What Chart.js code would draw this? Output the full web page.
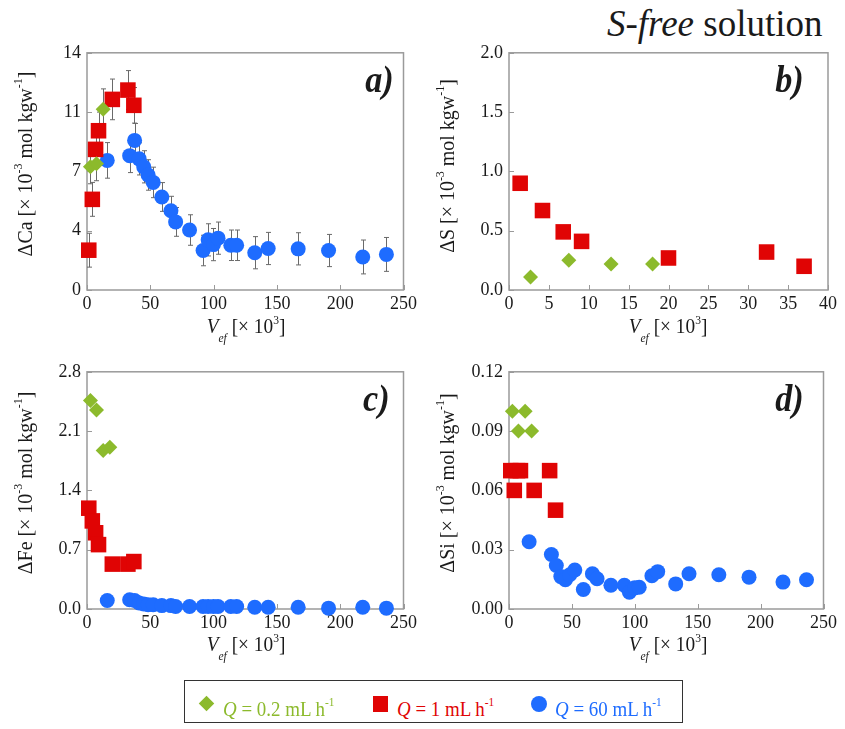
<!DOCTYPE html>
<html>
<head>
<meta charset="utf-8">
<script src="https://cdn.jsdelivr.net/npm/chart.js@4.4.0/dist/chart.umd.min.js"></script>
<style>
body { margin: 0; background: #fff; }
#fig { position: relative; width: 845px; height: 729px; font-family: 'Liberation Serif', 'Times New Roman', serif; color: #1a1a1a; overflow: hidden; }
.panel { position: absolute; }
.ytitle { position: absolute; white-space: nowrap; font-size: 21px; line-height: 1; transform: translate(-50%, -50%) rotate(-90deg) scaleX(0.95); }
.xtitle { position: absolute; white-space: nowrap; font-size: 21px; line-height: 1; transform: translateX(-50%) scaleX(0.92); }
.tag { position: absolute; font-weight: bold; font-style: italic; font-size: 38px; line-height: 1; transform: scaleX(0.9); transform-origin: right top; }
sup { font-size: 60%; vertical-align: 0.75em; line-height: 0; }
sub { font-size: 60%; vertical-align: -0.7em; line-height: 0; font-style: italic; }
#title { position: absolute; left: 607px; top: 2px; font-size: 37px; white-space: nowrap; }
#legend { position: absolute; left: 184px; top: 680px; width: 497px; height: 41px; border: 1.5px solid #333; }
.lg { position: absolute; white-space: nowrap; font-size: 22px; line-height: 1; transform: scaleX(0.86); transform-origin: left top; }
.mk { position: absolute; }
</style>
</head>
<body>
<div id="fig">
  <div id="title"><i>S-free</i> solution</div>

  <canvas id="chartA" class="panel" width="420" height="290" style="left:0px;top:36px"></canvas>
  <canvas id="chartB" class="panel" width="420" height="290" style="left:420px;top:36px"></canvas>
  <canvas id="chartC" class="panel" width="420" height="290" style="left:0px;top:355px"></canvas>
  <canvas id="chartD" class="panel" width="420" height="290" style="left:420px;top:355px"></canvas>

  <div class="ytitle" style="left:25px;top:164px">ΔCa [× 10<sup>-3</sup> mol kgw<sup>-1</sup>]</div>
  <div class="ytitle" style="left:447px;top:166px">ΔS [× 10<sup>-3</sup> mol kgw<sup>-1</sup>]</div>
  <div class="ytitle" style="left:25px;top:483px">ΔFe [× 10<sup>-3</sup> mol kgw<sup>-1</sup>]</div>
  <div class="ytitle" style="left:447px;top:483px">ΔSi [× 10<sup>-3</sup> mol kgw<sup>-1</sup>]</div>

  <div class="xtitle" style="left:246px;top:316px"><i>V</i><sub>ef</sub> [× 10<sup>3</sup>]</div>
  <div class="xtitle" style="left:668px;top:316px"><i>V</i><sub>ef</sub> [× 10<sup>3</sup>]</div>
  <div class="xtitle" style="left:246px;top:634px"><i>V</i><sub>ef</sub> [× 10<sup>3</sup>]</div>
  <div class="xtitle" style="left:668px;top:634px"><i>V</i><sub>ef</sub> [× 10<sup>3</sup>]</div>

  <div class="tag" style="right:451px;top:60px">a)</div>
  <div class="tag" style="right:41px;top:60px">b)</div>
  <div class="tag" style="right:455px;top:379px">c)</div>
  <div class="tag" style="right:41px;top:379px">d)</div>

  <div id="legend">
    <div class="mk" style="left:16px;top:17px;width:11px;height:11px;background:#8cba2c;transform:rotate(45deg)"></div>
    <div class="lg" style="left:38px;top:17px;color:#8cba2c"><i>Q</i> = 0.2 mL h<sup>-1</sup></div>
    <div class="mk" style="left:188px;top:15px;width:15px;height:16px;background:#e00404"></div>
    <div class="lg" style="left:212px;top:17px;color:#e00404"><i>Q</i> = 1 mL h<sup>-1</sup></div>
    <div class="mk" style="left:346px;top:15px;width:16px;height:16px;border-radius:50%;background:#1e6cff"></div>
    <div class="lg" style="left:370px;top:17px;color:#1e6cff"><i>Q</i> = 60 mL h<sup>-1</sup></div>
  </div>
</div>

<script>
// axis ticks
const xTicksV = [0, 50, 100, 150, 200, 250];
const xTicksS = [0, 5, 10, 15, 20, 25, 30, 35, 40];
const caTicks = [0, 3.5, 7, 10.5, 14];
const sTicks = [0, 0.5, 1.0, 1.5, 2.0];
const feTicks = [0, 0.7, 1.4, 2.1, 2.8];
const siTicks = [0, 0.03, 0.06, 0.09, 0.12];

// V_ef of each sample [x 10^3], per flow rate
const vGreen = [2.7, 7.5, 12.8, 18.0];
const vRed = [1.4, 4.2, 6.8, 9.1, 20.0, 32.3, 37.0];
const vBlue = [16.0, 33.7, 37.6, 41.2, 44.8, 48.3, 52.3, 59.1, 66.3, 70.0, 81.0, 91.7, 95.7, 99.9,
               103.5, 113.6, 118.2, 132.5, 143.1, 166.8, 190.8, 217.8, 236.5];

// a) Ca
const caGreen = [7.27, 7.45, 10.67];
const caGreenErr = [1.0, 1.0, 1.2];
const caRed = [2.35, 5.35, 8.3, 9.4, 11.25, 11.8, 10.9];
const caRedErr = [1.0, 1.0, 1.1, 1.1, 1.2, 1.15, 1.05];
const caBlue = [7.65, 7.93, 8.83, 7.74, 7.27, 6.79, 6.35, 5.49, 4.68, 4.02, 3.54, 2.33, 2.96, 2.68,
                3.06, 2.64, 2.64, 2.2, 2.45, 2.43, 2.33, 1.95, 2.1];
const caBlueErr = [1.05, 1.0, 1.0, 0.95, 0.95, 0.9, 0.9, 0.85, 0.85, 0.85, 0.9, 0.9, 0.95, 0.95,
                   0.95, 0.9, 0.9, 0.95, 0.95, 0.95, 0.95, 1.0, 1.0];

// b) S
const sGreen = [0.11, 0.25, 0.22, 0.22];
const sRed = [0.90, 0.67, 0.49, 0.41, 0.27, 0.32, 0.20];

// c) Fe
const feGreen = [2.46, 2.35, 1.87, 1.91];
const feRed = [1.19, 1.04, 0.90, 0.76, 0.53, 0.53, 0.56];
const feBlue = [0.10, 0.11, 0.10, 0.07, 0.06, 0.05, 0.05, 0.04, 0.04, 0.03, 0.03, 0.03, 0.03, 0.03,
                0.03, 0.03, 0.03, 0.02, 0.02, 0.02, 0.01, 0.02, 0.01];

// d) Si
const siGreen = [0.10, 0.09, 0.10, 0.09];
const siRed = [0.07, 0.06, 0.07, 0.07, 0.06, 0.07, 0.05];
const siBlue = [0.034, 0.0276, 0.022, 0.0164, 0.0148, 0.0173, 0.0197, 0.0099, 0.0178, 0.0153, 0.012, 0.012,
                0.0085, 0.0107, 0.011, 0.0168, 0.0189, 0.0127, 0.0178, 0.0173, 0.0161, 0.0136, 0.0148];

const green = '#8cba2c';
const red = '#e00404';
const blue = '#1e6cff';
const axisColor = '#9a9a9a';

function pts(xs, ys) {
    return ys.map((y, i) => ({ x: xs[i], y: y }));
}

// frame + inward tick marks
const framePlugin = {
    id: 'frame',
    beforeDatasetsDraw(chart) {
        const { ctx, chartArea: a, scales } = chart;
        ctx.save();
        ctx.strokeStyle = axisColor;
        ctx.lineWidth = 1.5;
        ctx.strokeRect(a.left, a.top, a.right - a.left, a.bottom - a.top);
        ctx.lineWidth = 1;
        scales.x.ticks.forEach(t => {
            const px = Math.round(scales.x.getPixelForValue(t.value)) + 0.5;
            ctx.beginPath();
            ctx.moveTo(px, a.bottom);
            ctx.lineTo(px, a.bottom - 5);
            ctx.stroke();
        });
        scales.y.ticks.forEach(t => {
            const py = Math.round(scales.y.getPixelForValue(t.value)) + 0.5;
            ctx.beginPath();
            ctx.moveTo(a.left, py);
            ctx.lineTo(a.left + 5, py);
            ctx.stroke();
        });
        ctx.restore();
    }
};

// vertical error bars from dataset.yErr
const errorBarPlugin = {
    id: 'errbars',
    beforeDatasetsDraw(chart) {
        const { ctx, scales } = chart;
        ctx.save();
        ctx.strokeStyle = '#6a6a6a';
        ctx.lineWidth = 1;
        chart.data.datasets.forEach(ds => {
            if (!ds.yErr) return;
            ds.data.forEach((p, i) => {
                const e = ds.yErr[i];
                const px = Math.round(scales.x.getPixelForValue(p.x)) + 0.5;
                const y1 = scales.y.getPixelForValue(p.y + e);
                const y2 = scales.y.getPixelForValue(p.y - e);
                ctx.beginPath();
                ctx.moveTo(px, y1);
                ctx.lineTo(px, y2);
                ctx.moveTo(px - 2.5, y1);
                ctx.lineTo(px + 2.5, y1);
                ctx.moveTo(px - 2.5, y2);
                ctx.lineTo(px + 2.5, y2);
                ctx.stroke();
            });
        });
        ctx.restore();
    }
};

function series(label, xs, ys, color, style, radius, err) {
    return {
        label: label,
        data: pts(xs, ys),
        yErr: err,
        pointStyle: style,
        pointRadius: radius,
        pointBackgroundColor: color,
        pointBorderColor: color,
        pointBorderWidth: 0,
        showLine: false,
        clip: false
    };
}

function makePanel(id, xMax, xTicks, yTicks, yFmt, yWidth, padRight, datasets) {
    const tickFont = { family: "'Liberation Serif', 'Times New Roman', serif", size: 18 };
    new Chart(document.getElementById(id), {
        type: 'scatter',
        data: { datasets: datasets },
        options: {
            responsive: false,
            animation: false,
            layout: { padding: { top: 10, right: padRight, left: 0, bottom: 0 } },
            plugins: { legend: { display: false }, tooltip: { enabled: false } },
            scales: {
                x: {
                    type: 'linear', min: 0, max: xMax,
                    afterBuildTicks: s => { s.ticks = xTicks.map(v => ({ value: v })); },
                    afterFit: s => { s.height = 36; },
                    grid: { display: false, drawTicks: false },
                    border: { display: false },
                    ticks: { font: tickFont, color: '#1a1a1a', padding: 3, maxRotation: 0, autoSkip: false,
                             callback: v => String(v) }
                },
                y: {
                    type: 'linear', min: 0, max: yTicks[yTicks.length - 1],
                    afterBuildTicks: s => { s.ticks = yTicks.map(v => ({ value: v })); },
                    afterFit: s => { s.width = yWidth; },
                    grid: { display: false, drawTicks: false },
                    border: { display: false },
                    ticks: { font: tickFont, color: '#1a1a1a', padding: 6, autoSkip: false, callback: yFmt }
                }
            }
        },
        plugins: [framePlugin, errorBarPlugin]
    });
}

makePanel('chartA', 250, xTicksV, caTicks, v => String(Math.round(v)), 87, 13, [
    series('Q = 0.2 mL h-1', vGreen.slice(0, 3), caGreen, green, 'rectRot', 7.5, caGreenErr),
    series('Q = 1 mL h-1', vRed, caRed, red, 'rect', 11, caRedErr),
    series('Q = 60 mL h-1', vBlue, caBlue, blue, 'circle', 7.5, caBlueErr)
]);

makePanel('chartB', 40, xTicksS, sTicks, v => v.toFixed(1), 89, 12, [
    series('Q = 0.2 mL h-1', vGreen, sGreen, green, 'rectRot', 7.5),
    series('Q = 1 mL h-1', vRed, sRed, red, 'rect', 11)
]);

makePanel('chartC', 250, xTicksV, feTicks, v => v.toFixed(1), 87, 13, [
    series('Q = 0.2 mL h-1', vGreen, feGreen, green, 'rectRot', 7.5),
    series('Q = 1 mL h-1', vRed, feRed, red, 'rect', 11),
    series('Q = 60 mL h-1', vBlue, feBlue, blue, 'circle', 7.5)
]);

makePanel('chartD', 250, xTicksV, siTicks, v => v.toFixed(2), 89, 12, [
    series('Q = 0.2 mL h-1', vGreen, siGreen, green, 'rectRot', 7.5),
    series('Q = 1 mL h-1', vRed, siRed, red, 'rect', 11),
    series('Q = 60 mL h-1', vBlue, siBlue, blue, 'circle', 7.5)
]);
</script>
</body>
</html>
